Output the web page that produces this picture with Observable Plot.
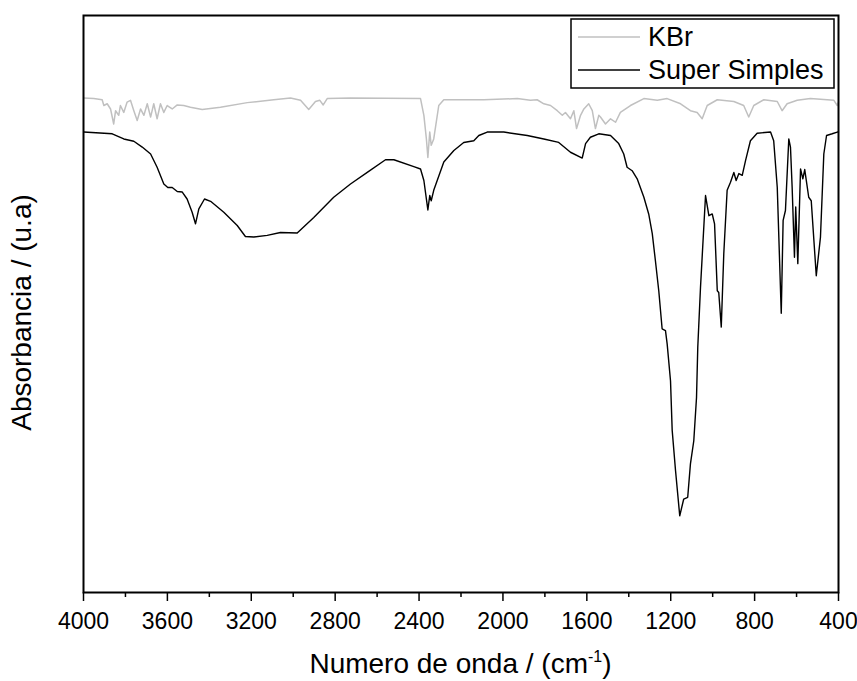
<!DOCTYPE html>
<html>
<head>
<meta charset="utf-8">
<script src="https://cdn.jsdelivr.net/npm/d3@7"></script>
<script src="https://cdn.jsdelivr.net/npm/@observablehq/plot@0.6"></script>
<style>
  html, body { margin: 0; padding: 0; background: #fff; }
  #chart svg { display: block; }
</style>
</head>
<body>
<div id="chart"></div>
<script>
// ---- Data ----
const seriesNames = ["KBr", "Super Simples"];
const seriesColors = ["#c0c0c0", "#000000"];

const wavenumberSS = [3999,3863,3808,3760,3720,3680,3649,3617,3598,3577,3553,3529,3506,3482,3466,3450,3423,3394,3331,3267,3228,3188,3124,3061,2981,2902,2807,2727,2647,2560,2520,2425,2393,2377,2358,2349,2342,2330,2282,2234,2187,2139,2115,2075,1996,1884,1805,1734,1678,1622,1606,1583,1543,1487,1448,1424,1408,1384,1360,1328,1305,1288,1273,1257,1241,1225,1217,1201,1193,1177,1157,1138,1119,1106,1090,1077,1071,1058,1034,1018,1002,991,978,971,959,947,931,915,899,888,875,859,843,820,788,724,709,692,673,664,653,637,629,621,610,604,594,581,570,561,542,530,506,486,470,457,430,406,400];
const absorbSS = [79.8,79.5,78.6,78.2,77.2,76.0,73.7,70.8,70.2,70.2,69.5,69.4,68.2,65.9,63.9,66.5,68.2,67.8,65.9,63.6,61.7,61.6,61.9,62.4,62.3,65.0,68.5,70.8,72.8,75.0,75.0,73.8,73.4,71.4,66.3,68.8,67.9,69.7,74.6,76.6,78.0,78.3,79.2,79.8,79.8,79.2,78.6,78.0,76.3,75.3,77.8,78.9,79.5,79.2,77.8,76.0,73.7,73.1,71.7,68.5,65.6,62.2,57.5,52.3,45.7,45.4,43.1,36.7,28.1,21.1,13.3,16.2,16.5,22.3,26.3,33.8,42.5,52.9,68.8,65.3,65.6,63.9,52.3,52.0,46.0,58.7,69.7,71.1,72.8,71.4,72.6,72.3,74.9,78.3,79.6,79.8,78.3,70.2,48.4,64.5,66.2,78.6,77.2,70.2,58.1,66.8,57.0,73.4,71.7,73.3,68.5,67.9,54.9,61.6,76.0,79.2,79.5,79.8,79.8];

const wavenumberKBr = [3999,3951,3911,3903,3887,3871,3856,3847,3832,3824,3808,3792,3776,3760,3744,3728,3712,3696,3680,3665,3649,3633,3617,3601,3577,3553,3522,3490,3434,3347,3219,3093,3013,2965,2926,2894,2873,2857,2838,2727,2393,2377,2365,2358,2349,2342,2330,2306,2282,2091,1932,1869,1837,1805,1773,1741,1717,1702,1678,1662,1649,1630,1614,1591,1574,1559,1543,1535,1511,1487,1463,1440,1392,1328,1264,1217,1153,1106,1074,1050,1026,978,899,852,828,804,756,692,669,645,597,534,454,422,406,400];
const absorbKBr = [85.7,85.6,85.4,84.4,84.7,83.8,81.2,83.5,82.7,84.4,83.2,85.0,85.3,83.5,81.8,83.8,82.7,84.7,82.4,84.7,82.1,84.7,83.2,84.4,83.8,84.5,84.4,84.1,83.7,84.1,84.9,85.4,85.7,85.3,83.7,85.1,85.3,84.5,85.6,85.7,85.6,82.7,78.6,75.4,79.8,77.5,78.6,84.4,85.4,85.4,85.6,85.3,85.4,84.7,84.4,83.5,82.7,83.2,82.1,83.5,80.4,82.7,83.8,84.7,83.5,80.4,82.7,82.4,81.2,82.1,81.5,83.2,84.4,85.6,85.3,85.6,84.7,83.5,83.2,82.1,84.4,85.4,85.1,84.4,82.4,84.4,85.4,85.1,83.5,84.7,85.3,85.6,85.4,85.3,84.4,85.0];

const xTicks = [4000,3600,3200,2800,2400,2000,1600,1200,800,400];
const xMinorTicks = [3800,3400,3000,2600,2200,1800,1400,1000,600];
const xDomain = [4000, 400];
const yDomain = [0, 100];
const xTitle = "Numero de onda / (cm";
const xTitleSup = "-1";
const yTitle = "Absorbancia / (u.a)";

// ---- Build table ----
const kbr = wavenumberKBr.map((w, i) => ({w, a: absorbKBr[i], s: seriesNames[0]}));
const ss = wavenumberSS.map((w, i) => ({w, a: absorbSS[i], s: seriesNames[1]}));

const W = 857, H = 681;
const mL = 83, mR = 19, mT = 15, mB = 89;
const font = "'Liberation Sans', Arial, sans-serif";

const chart = Plot.plot({
  width: W,
  height: H,
  marginLeft: mL,
  marginRight: mR,
  marginTop: mT,
  marginBottom: mB,
  style: {fontFamily: font, background: "#fff", color: "#000"},
  x: {domain: xDomain, axis: null},
  y: {domain: yDomain, axis: null},
  marks: [
    Plot.line(kbr, {x: "w", y: "a", stroke: seriesColors[0], strokeWidth: 1.5}),
    Plot.line(ss, {x: "w", y: "a", stroke: seriesColors[1], strokeWidth: 1.4}),
    Plot.axisX({ticks: xMinorTicks, tickSize: 5, tickFormat: () => "", stroke: "#000", strokeWidth: 1.5, label: null}),
    Plot.axisX({ticks: xTicks, tickSize: 9, tickPadding: 11, tickFormat: d3.format("d"), fontSize: 23, stroke: "#000", strokeWidth: 1.5, label: null, fill: "#000"}),
    Plot.frame({stroke: "#000", strokeWidth: 2})
  ]
});

document.getElementById("chart").appendChild(chart);

// ---- Titles and legend (non-data annotations) ----
const svg = d3.select(chart);
svg.selectAll("g[aria-label='x-axis tick label'] text")
  .attr("fill", "#000").style("font-size", "23px");

const xt = svg.append("text")
  .attr("x", (mL + W - mR) / 2)
  .attr("y", 673)
  .attr("text-anchor", "middle")
  .attr("font-family", font)
  .attr("font-size", 28)
  .attr("fill", "#000");
xt.append("tspan").text(xTitle);
xt.append("tspan").attr("dy", -11).attr("font-size", 16).text(xTitleSup);
xt.append("tspan").attr("dy", 11).text(")");

svg.append("text")
  .attr("transform", `translate(31,${(mT + H - mB) / 2 + 9}) rotate(-90)`)
  .attr("text-anchor", "middle")
  .attr("font-family", font)
  .attr("font-size", 28)
  .attr("fill", "#000")
  .text(yTitle);

const lg = svg.append("g");
lg.append("rect").attr("x", 571).attr("y", 19).attr("width", 263).attr("height", 69)
  .attr("fill", "#fff").attr("stroke", "#000").attr("stroke-width", 1.5);
seriesNames.forEach((name, i) => {
  const yy = 37 + i * 33;
  lg.append("line").attr("x1", 578).attr("x2", 640).attr("y1", yy).attr("y2", yy)
    .attr("stroke", seriesColors[i]).attr("stroke-width", 1.4);
  lg.append("text").attr("x", 648).attr("y", yy + 9)
    .attr("text-anchor", "start")
    .attr("font-family", font).attr("font-size", 27).attr("fill", "#000").text(name);
});
</script>
</body>
</html>
